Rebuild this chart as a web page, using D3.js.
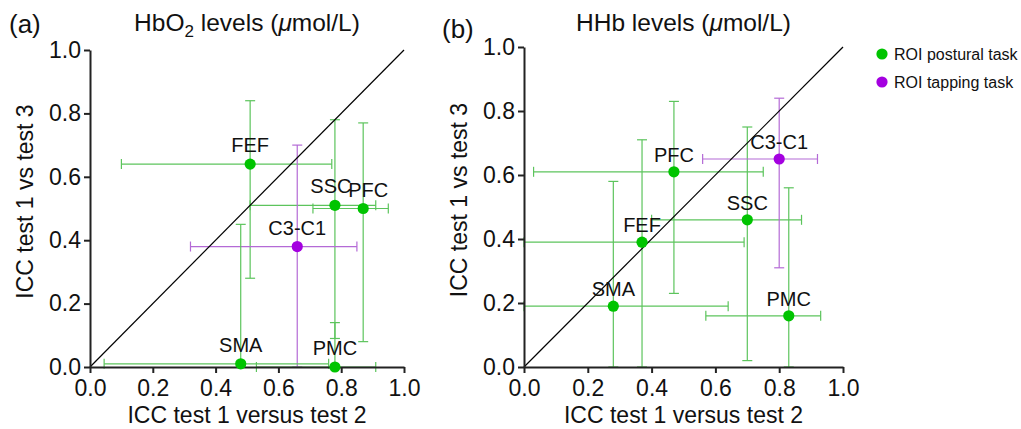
<!DOCTYPE html>
<html>
<head>
<meta charset="utf-8">
<script src="https://cdn.jsdelivr.net/npm/d3@7/dist/d3.min.js"></script>
<style>
  html, body { margin: 0; padding: 0; background: #ffffff; }
  svg { display: block; font-family: "Liberation Sans", Arial, Helvetica, sans-serif; }
</style>
</head>
<body>
<svg id="chart" width="1021" height="429"></svg>
<script>
// ---------------- data ----------------
const roiNames = ["FEF", "SSC", "PFC", "C3-C1", "SMA", "PMC"];
const roiTask  = ["postural", "postural", "postural", "tapping", "postural", "postural"];

// (a) HbO2 levels: x = ICC test 1 vs test 2, y = ICC test 1 vs test 3
const hbo2X     = [0.51, 0.78, 0.87, 0.66, 0.48, 0.78];
const hbo2XLow  = [0.10, 0.51, 0.71, 0.32, 0.045, 0.53];
const hbo2XHigh = [0.77, 0.91, 0.95, 0.85, 0.76, 0.91];
const hbo2Y     = [0.64, 0.51, 0.50, 0.38, 0.01, 0.00];
const hbo2YLow  = [0.28, 0.09, 0.08, 0.00, 0.00, 0.00];
const hbo2YHigh = [0.84, 0.78, 0.77, 0.70, 0.45, 0.14];

// (b) HHb levels
const hhbX     = [0.37, 0.70, 0.47, 0.80, 0.28, 0.83];
const hhbXLow  = [0.00, 0.40, 0.03, 0.56, 0.00, 0.57];
const hhbXHigh = [0.69, 0.87, 0.75, 0.92, 0.64, 0.93];
const hhbY     = [0.39, 0.46, 0.61, 0.65, 0.19, 0.16];
const hhbYLow  = [0.00, 0.02, 0.23, 0.31, 0.00, 0.00];
const hhbYHigh = [0.71, 0.75, 0.83, 0.84, 0.58, 0.56];

const tickValues = [0, 0.2, 0.4, 0.6, 0.8, 1.0];
const legendLabels = ["ROI postural task", "ROI tapping task"];
const legendTasks  = ["postural", "tapping"];

// ---------------- style ----------------
const dotColor = { postural: "#00c400", tapping: "#a400e0" };
const barColor = { postural: "#5cc45c", tapping: "#b46ad6" };

const svg = d3.select("#chart");

function buildRows(xs, xl, xh, ys, yl, yh) {
  return roiNames.map((n, i) => ({
    name: n, task: roiTask[i],
    x: xs[i], xLo: xl[i], xHi: xh[i],
    y: ys[i], yLo: yl[i], yHi: yh[i]
  }));
}

const panels = [
  {
    tag: "(a)", tagX: 9, tagY: 33,
    titleParts: [["HbO", 0, false], ["2", 1, false], [" levels (", -1, false], ["μ", 0, true], ["mol/L)", 0, false]],
    xRange: [90, 404], yRange: [367, 50],
    yTitleX: 33,
    labelDy: -12,
    labelDx: { "SSC": -4, "PFC": 5 },
    rows: buildRows(hbo2X, hbo2XLow, hbo2XHigh, hbo2Y, hbo2YLow, hbo2YHigh)
  },
  {
    tag: "(b)", tagX: 442, tagY: 38,
    titleParts: [["HHb levels (", 0, false], ["μ", 0, true], ["mol/L)", 0, false]],
    xRange: [524, 843], yRange: [367, 47],
    yTitleX: 467,
    labelDy: -10,
    labelDx: {},
    rows: buildRows(hhbX, hhbXLow, hhbXHigh, hhbY, hhbYLow, hhbYHigh)
  }
];

panels.forEach(p => {
  const x = d3.scaleLinear().domain([0, 1]).range(p.xRange);
  const y = d3.scaleLinear().domain([0, 1]).range(p.yRange);
  const g = svg.append("g");
  const cx = (p.xRange[0] + p.xRange[1]) / 2;
  const cy = (p.yRange[0] + p.yRange[1]) / 2;

  // panel tag
  g.append("text").attr("x", p.tagX).attr("y", p.tagY)
    .attr("font-size", 26).attr("fill", "#111").text(p.tag);

  // title
  const t = g.append("text").attr("x", cx).attr("y", 31)
    .attr("text-anchor", "middle").attr("font-size", 24.5).attr("fill", "#111");
  p.titleParts.forEach(([s, sub, ital]) => {
    const ts = t.append("tspan").text(s);
    if (sub === 1) ts.attr("dy", 6).attr("font-size", 17);
    if (sub === -1) ts.attr("dy", -6);
    if (ital) ts.attr("font-style", "italic");
  });

  // error bars
  const cap = 5;
  const eb = g.append("g").attr("fill", "none").attr("stroke-width", 1.2);
  p.rows.forEach(d => {
    const c = barColor[d.task];
    // horizontal
    eb.append("line").attr("x1", x(d.xLo)).attr("x2", x(d.xHi))
      .attr("y1", y(d.y)).attr("y2", y(d.y)).attr("stroke", c);
    [d.xLo, d.xHi].forEach(v => eb.append("line")
      .attr("x1", x(v)).attr("x2", x(v))
      .attr("y1", y(d.y) - cap).attr("y2", y(d.y) + cap).attr("stroke", c));
    // vertical
    eb.append("line").attr("x1", x(d.x)).attr("x2", x(d.x))
      .attr("y1", y(d.yLo)).attr("y2", y(d.yHi)).attr("stroke", c);
    [d.yLo, d.yHi].forEach(v => eb.append("line")
      .attr("x1", x(d.x) - cap).attr("x2", x(d.x) + cap)
      .attr("y1", y(v)).attr("y2", y(v)).attr("stroke", c));
  });

  // identity line
  g.append("line")
    .attr("x1", x(0)).attr("y1", y(0)).attr("x2", x(1)).attr("y2", y(1))
    .attr("stroke", "#000").attr("stroke-width", 1.2);

  // axes
  const xAxis = d3.axisBottom(x).tickValues(tickValues).tickFormat(d3.format(".1f"))
    .tickSize(6).tickSizeOuter(0).tickPadding(7);
  const yAxis = d3.axisLeft(y).tickValues(tickValues).tickFormat(d3.format(".1f"))
    .tickSize(6).tickSizeOuter(0).tickPadding(3);
  const gx = g.append("g").attr("transform", `translate(0,${p.yRange[0]})`).call(xAxis);
  const gy = g.append("g").attr("transform", `translate(${p.xRange[0]},0)`).call(yAxis);
  [gx, gy].forEach(a => {
    a.select(".domain").attr("stroke", "#222").attr("stroke-width", 2);
    a.selectAll(".tick line").attr("stroke", "#222").attr("stroke-width", 2);
    a.selectAll(".tick text").attr("font-size", 23).attr("fill", "#111")
      .attr("font-family", "Liberation Sans, Arial, sans-serif");
  });

  // axis titles
  g.append("text").attr("x", cx).attr("y", 423).attr("text-anchor", "middle")
    .attr("font-size", 23).attr("fill", "#111").text("ICC test 1 versus test 2");
  g.append("text").attr("transform", `translate(${p.yTitleX},${cy - 7}) rotate(-90)`)
    .attr("text-anchor", "middle").attr("font-size", 23).attr("fill", "#111")
    .text("ICC test 1 vs test 3");

  // points
  g.append("g").selectAll("circle").data(p.rows).join("circle")
    .attr("cx", d => x(d.x)).attr("cy", d => y(d.y)).attr("r", 5.6)
    .attr("fill", d => dotColor[d.task]);

  // labels
  g.append("g").selectAll("text").data(p.rows).join("text")
    .attr("x", d => x(d.x) + (p.labelDx[d.name] || 0))
    .attr("y", d => y(d.y) + p.labelDy)
    .attr("text-anchor", "middle").attr("font-size", 20).attr("fill", "#111")
    .text(d => d.name);
});

// legend
const lg = svg.append("g");
legendLabels.forEach((lab, i) => {
  lg.append("circle").attr("cx", 882).attr("cy", 54 + i * 28).attr("r", 5.6)
    .attr("fill", dotColor[legendTasks[i]]);
  lg.append("text").attr("x", 894).attr("y", 60 + i * 28)
    .attr("font-size", 16).attr("fill", "#111").text(lab);
});
</script>
</body>
</html>
